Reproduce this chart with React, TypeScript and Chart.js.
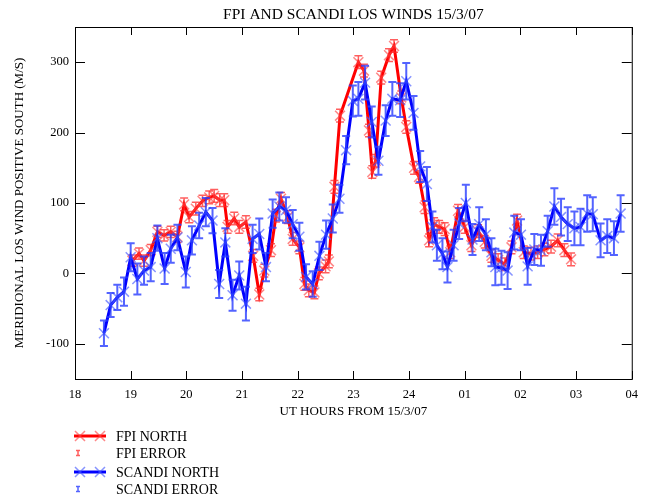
import { useEffect, useRef } from 'react';
import { Chart, registerables } from 'chart.js';

Chart.register(...registerables);

const FONT = '"Liberation Serif", "Times New Roman", serif';

const titleText = 'FPI AND SCANDI LOS WINDS 15/3/07';
const xAxisTitle = 'UT HOURS FROM 15/3/07';
const yAxisTitle = 'MERIDIONAL LOS WIND POSITIVE SOUTH (M/S)';

const xTickValues = [18, 19, 20, 21, 22, 23, 24, 25, 26, 27, 28];
const xTickLabels = ['18', '19', '20', '21', '22', '23', '24', '01', '02', '03', '04'];
const yTickValues = [-100, 0, 100, 200, 300];
const yTickLabels = ['-100', '0', '100', '200', '300'];

const legendLabels = ['FPI NORTH', 'FPI ERROR', 'SCANDI NORTH', 'SCANDI ERROR'];

// FPI (red) — hours, wind (m/s), error (m/s)
const fpiHours = [
  19.03, 19.15, 19.24, 19.36, 19.48, 19.6, 19.72, 19.84, 19.96, 20.05,
  20.17, 20.29, 20.41, 20.5, 20.6, 20.68, 20.74, 20.86, 20.95, 21.07,
  21.2, 21.31, 21.4, 21.52, 21.61, 21.7, 21.82, 21.91, 22.03, 22.12,
  22.2, 22.3, 22.38, 22.5, 22.56, 22.66, 22.76, 23.09, 23.19, 23.28,
  23.34, 23.4, 23.5, 23.64, 23.73, 23.86, 23.95, 24.09, 24.18, 24.28,
  24.36, 24.45, 24.54, 24.64, 24.74, 24.88, 25.0, 25.12, 25.24, 25.36,
  25.48, 25.6, 25.72, 25.84, 25.94, 26.06, 26.19, 26.31, 26.43, 26.55,
  26.67, 26.79, 26.91,
];
const fpiWind = [
  18, 28, 18, 33, 59, 54, 59, 52, 98, 80,
  92, 103, 108, 110, 104, 104, 66, 78, 66, 73,
  25, -30, 4, 33, 82, 106, 80, 49, 37, -15,
  -24, -27, 0, 10, 17, 123, 224, 300, 288, 203,
  144, 160, 278, 310, 323, 250, 208, 150, 137, 94,
  47, 70, 66, 63, 30, 89, 66, 40, 60, 45,
  25, 19, 13, 37, 75, 30, 28, 30, 34, 38,
  47, 33, 20,
];
const fpiError = [
  8, 8, 8, 8, 8, 8, 8, 8, 9, 8,
  9, 8, 9, 9, 9, 9, 9, 9, 9, 9,
  9, 9, 9, 9, 9, 9, 9, 9, 9, 9,
  9, 9, 9, 9, 9, 9, 9, 9, 9, 9,
  9, 9, 9, 9, 9, 9, 9, 9, 9, 9,
  9, 9, 9, 9, 9, 9, 9, 9, 9, 9,
  9, 9, 9, 9, 9, 9, 9, 9, 9, 9,
  9, 9, 9,
];

// SCANDI (blue) — hours, wind (m/s), error (m/s)
const scandiHours = [
  18.52, 18.64, 18.76, 18.88, 19.0, 19.12, 19.24, 19.36, 19.48, 19.61,
  19.72, 19.84, 19.99, 20.1, 20.23, 20.35, 20.47, 20.59, 20.7, 20.83,
  20.95, 21.07, 21.19, 21.31, 21.43, 21.55, 21.67, 21.79, 21.91, 22.03,
  22.15, 22.27, 22.39, 22.51, 22.63, 22.75, 22.87, 22.99, 23.09, 23.21,
  23.33, 23.45, 23.58, 23.7, 23.84, 23.95, 24.08, 24.2, 24.32, 24.42,
  24.5, 24.6, 24.69, 24.8, 24.9, 25.02, 25.14, 25.26, 25.38, 25.48,
  25.55, 25.66, 25.77, 25.89, 26.01, 26.13, 26.25, 26.37, 26.49, 26.61,
  26.73, 26.85, 26.97, 27.08, 27.2, 27.3, 27.44, 27.56, 27.68, 27.8,
];
const scandiWind = [
  -85, -45, -34, -26, 23, -8, 4, 9, 50, 7,
  35, 51, 2, 47, 68, 87, 75, -15, 44, -31,
  -3, -43, 49, 56, 9, 85, 95, 90, 70, 52,
  -5, -15, 25, 55, 78, 106, 175, 245, 248, 271,
  215, 160, 217, 248, 246, 273, 228, 152, 127, 66,
  40, 28, 9, 40, 71, 100, 48, 70, 55, 30,
  9, 8, 4, 58, 55, 10, 34, 33, 60, 95,
  80, 70, 64, 66, 85, 84, 47, 53, 50, 85,
];
const scandiError = [
  18, 17, 18, 20, 20, 22, 20, 20, 18, 22,
  20, 18, 22, 20, 18, 20, 18, 20, 20, 22,
  20, 24, 20, 22, 20, 20, 20, 18, 20, 20,
  18, 18, 20, 20, 20, 20, 20, 22, 24, 24,
  22, 20, 22, 24, 24, 26, 24, 22, 24, 22,
  22, 22, 22, 22, 22, 26, 22, 24, 22, 20,
  26, 24, 26, 24, 22, 26, 22, 22, 22, 26,
  26, 24, 24, 26, 26, 24, 24, 24, 24, 26,
];

const RED = '#ff0000';
const RED_MARK = 'rgba(255,70,70,0.65)';
const RED_ERR = 'rgba(255,40,40,0.75)';
const BLUE = '#0000ff';
const BLUE_MARK = 'rgba(70,90,255,0.65)';
const BLUE_ERR = 'rgba(40,60,255,0.8)';

const errorSets = [
  { errors: scandiError, color: BLUE_ERR, width: 2 },
  { errors: fpiError, color: RED_ERR, width: 1.5 },
];

const errorBarPlugin = {
  id: 'errorBars',
  afterDatasetDraw(chart: any, args: any) {
    const set = errorSets[args.index];
    if (!set) return;
    const ds = chart.data.datasets[args.index];
    const ys = chart.scales.y;
    const ctx = chart.ctx;
    const cap = 4;
    ctx.save();
    ctx.strokeStyle = set.color;
    ctx.lineWidth = set.width;
    ctx.beginPath();
    args.meta.data.forEach((pt: any, i: number) => {
      const v = ds.data[i].y;
      const top = ys.getPixelForValue(v + set.errors[i]);
      const bot = ys.getPixelForValue(v - set.errors[i]);
      const x = pt.x;
      ctx.moveTo(x, top);
      ctx.lineTo(x, bot);
      ctx.moveTo(x - cap, top);
      ctx.lineTo(x + cap, top);
      ctx.moveTo(x - cap, bot);
      ctx.lineTo(x + cap, bot);
    });
    ctx.stroke();
    ctx.restore();
  },
};

const framePlugin = {
  id: 'frameTicks',
  afterDraw(chart: any) {
    const { ctx, chartArea } = chart;
    const { left, right, top, bottom } = chartArea;
    const xs = chart.scales.x;
    const ys = chart.scales.y;
    ctx.save();
    ctx.strokeStyle = '#000';
    ctx.lineWidth = 1;
    ctx.strokeRect(left + 0.5, top + 0.5, right - left, bottom - top);
    ctx.beginPath();
    xTickValues.forEach((v) => {
      const px = Math.round(xs.getPixelForValue(v)) + 0.5;
      ctx.moveTo(px, top);
      ctx.lineTo(px, top + 8);
      ctx.moveTo(px, bottom);
      ctx.lineTo(px, bottom - 8);
    });
    yTickValues.forEach((v) => {
      const py = Math.round(ys.getPixelForValue(v)) + 0.5;
      ctx.moveTo(left, py);
      ctx.lineTo(left + 10, py);
      ctx.moveTo(right, py);
      ctx.lineTo(right - 10, py);
    });
    ctx.stroke();

    // legend
    const drawX = (x: number, y: number, c: string) => {
      ctx.strokeStyle = c;
      ctx.lineWidth = 1.5;
      ctx.beginPath();
      ctx.moveTo(x - 5, y - 5);
      ctx.lineTo(x + 5, y + 5);
      ctx.moveTo(x + 5, y - 5);
      ctx.lineTo(x - 5, y + 5);
      ctx.stroke();
    };
    const drawI = (x: number, y: number, c: string) => {
      ctx.strokeStyle = c;
      ctx.lineWidth = 1.5;
      ctx.beginPath();
      ctx.moveTo(x, y - 2.5);
      ctx.lineTo(x, y + 2.5);
      ctx.moveTo(x - 2, y - 2.5);
      ctx.lineTo(x + 2, y - 2.5);
      ctx.moveTo(x - 2, y + 2.5);
      ctx.lineTo(x + 2, y + 2.5);
      ctx.stroke();
    };
    const rows = [
      { y: 436, kind: 'line', c: RED, m: RED_MARK },
      { y: 453, kind: 'err', c: RED_ERR, m: RED_ERR },
      { y: 472, kind: 'line', c: BLUE, m: BLUE_MARK },
      { y: 489, kind: 'err', c: BLUE_ERR, m: BLUE_ERR },
    ];
    rows.forEach((r, i) => {
      if (r.kind === 'line') {
        ctx.strokeStyle = r.c;
        ctx.lineWidth = 3;
        ctx.beginPath();
        ctx.moveTo(74, r.y);
        ctx.lineTo(106, r.y);
        ctx.stroke();
        drawX(80, r.y, r.m);
        drawX(100, r.y, r.m);
      } else {
        drawI(78, r.y, r.c);
      }
      ctx.fillStyle = '#000';
      ctx.font = '14px ' + FONT;
      ctx.textAlign = 'left';
      ctx.textBaseline = 'middle';
      ctx.fillText(legendLabels[i], 116, r.y + 1);
    });
    ctx.restore();
  },
};

export default function App() {
  const ref = useRef<HTMLCanvasElement | null>(null);
  useEffect(() => {
    if (!ref.current) return;
    const chart = new Chart(ref.current, {
      type: 'line',
      data: {
        datasets: [
          {
            label: 'SCANDI NORTH',
            data: scandiHours.map((h, i) => ({ x: h, y: scandiWind[i] })),
            borderColor: BLUE,
            borderWidth: 3,
            pointStyle: 'crossRot',
            pointRadius: 7,
            pointBorderWidth: 1.5,
            pointBorderColor: BLUE_MARK,
            pointBackgroundColor: BLUE_MARK,
            tension: 0,
            order: 0,
          },
          {
            label: 'FPI NORTH',
            data: fpiHours.map((h, i) => ({ x: h, y: fpiWind[i] })),
            borderColor: RED,
            borderWidth: 3,
            pointStyle: 'crossRot',
            pointRadius: 7,
            pointBorderWidth: 1.5,
            pointBorderColor: RED_MARK,
            pointBackgroundColor: RED_MARK,
            tension: 0,
            order: 1,
          },
        ],
      },
      options: {
        responsive: false,
        animation: false,
        devicePixelRatio: 1,
        events: [],
        layout: { padding: { left: 0, right: 14, top: 0, bottom: 77 } },
        plugins: {
          legend: { display: false },
          tooltip: { enabled: false },
          title: {
            display: true,
            text: titleText,
            fullSize: false,
            color: '#000',
            font: { family: FONT, size: 15.5, weight: 'normal' },
            padding: { top: 6, bottom: 2.4 },
          },
        },
        scales: {
          x: {
            type: 'linear',
            min: 18,
            max: 28,
            afterBuildTicks: (s: any) => {
              s.ticks = xTickValues.map((v) => ({ value: v }));
            },
            afterFit: (s: any) => {
              s.height = 40;
            },
            ticks: {
              autoSkip: false,
              maxRotation: 0,
              padding: 8,
              color: '#000',
              font: { family: FONT, size: 12.5 },
              callback: (v: any) => xTickLabels[xTickValues.indexOf(Number(v))],
            },
            grid: { display: false, drawTicks: false },
            border: { display: false },
            title: {
              display: true,
              text: xAxisTitle,
              color: '#000',
              font: { family: FONT, size: 13 },
              padding: { top: 0, bottom: 0 },
            },
          },
          y: {
            type: 'linear',
            min: -150,
            max: 350,
            afterBuildTicks: (s: any) => {
              s.ticks = yTickValues.map((v) => ({ value: v }));
            },
            afterFit: (s: any) => {
              s.width = 75;
            },
            ticks: {
              padding: 6,
              color: '#000',
              font: { family: FONT, size: 12.5 },
              callback: (v: any) => yTickLabels[yTickValues.indexOf(Number(v))],
            },
            grid: { display: false, drawTicks: false },
            border: { display: false },
            title: {
              display: true,
              text: yAxisTitle,
              color: '#000',
              font: { family: FONT, size: 13 },
              padding: { top: 12, bottom: 0 },
            },
          },
        },
      },
      plugins: [errorBarPlugin, framePlugin],
    } as any);
    return () => chart.destroy();
  }, []);
  return (
    <div style={{ position: 'absolute', left: 0, top: 0, width: 646, height: 496, background: '#fff' }}>
      <canvas ref={ref} width={646} height={496} />
    </div>
  );
}
